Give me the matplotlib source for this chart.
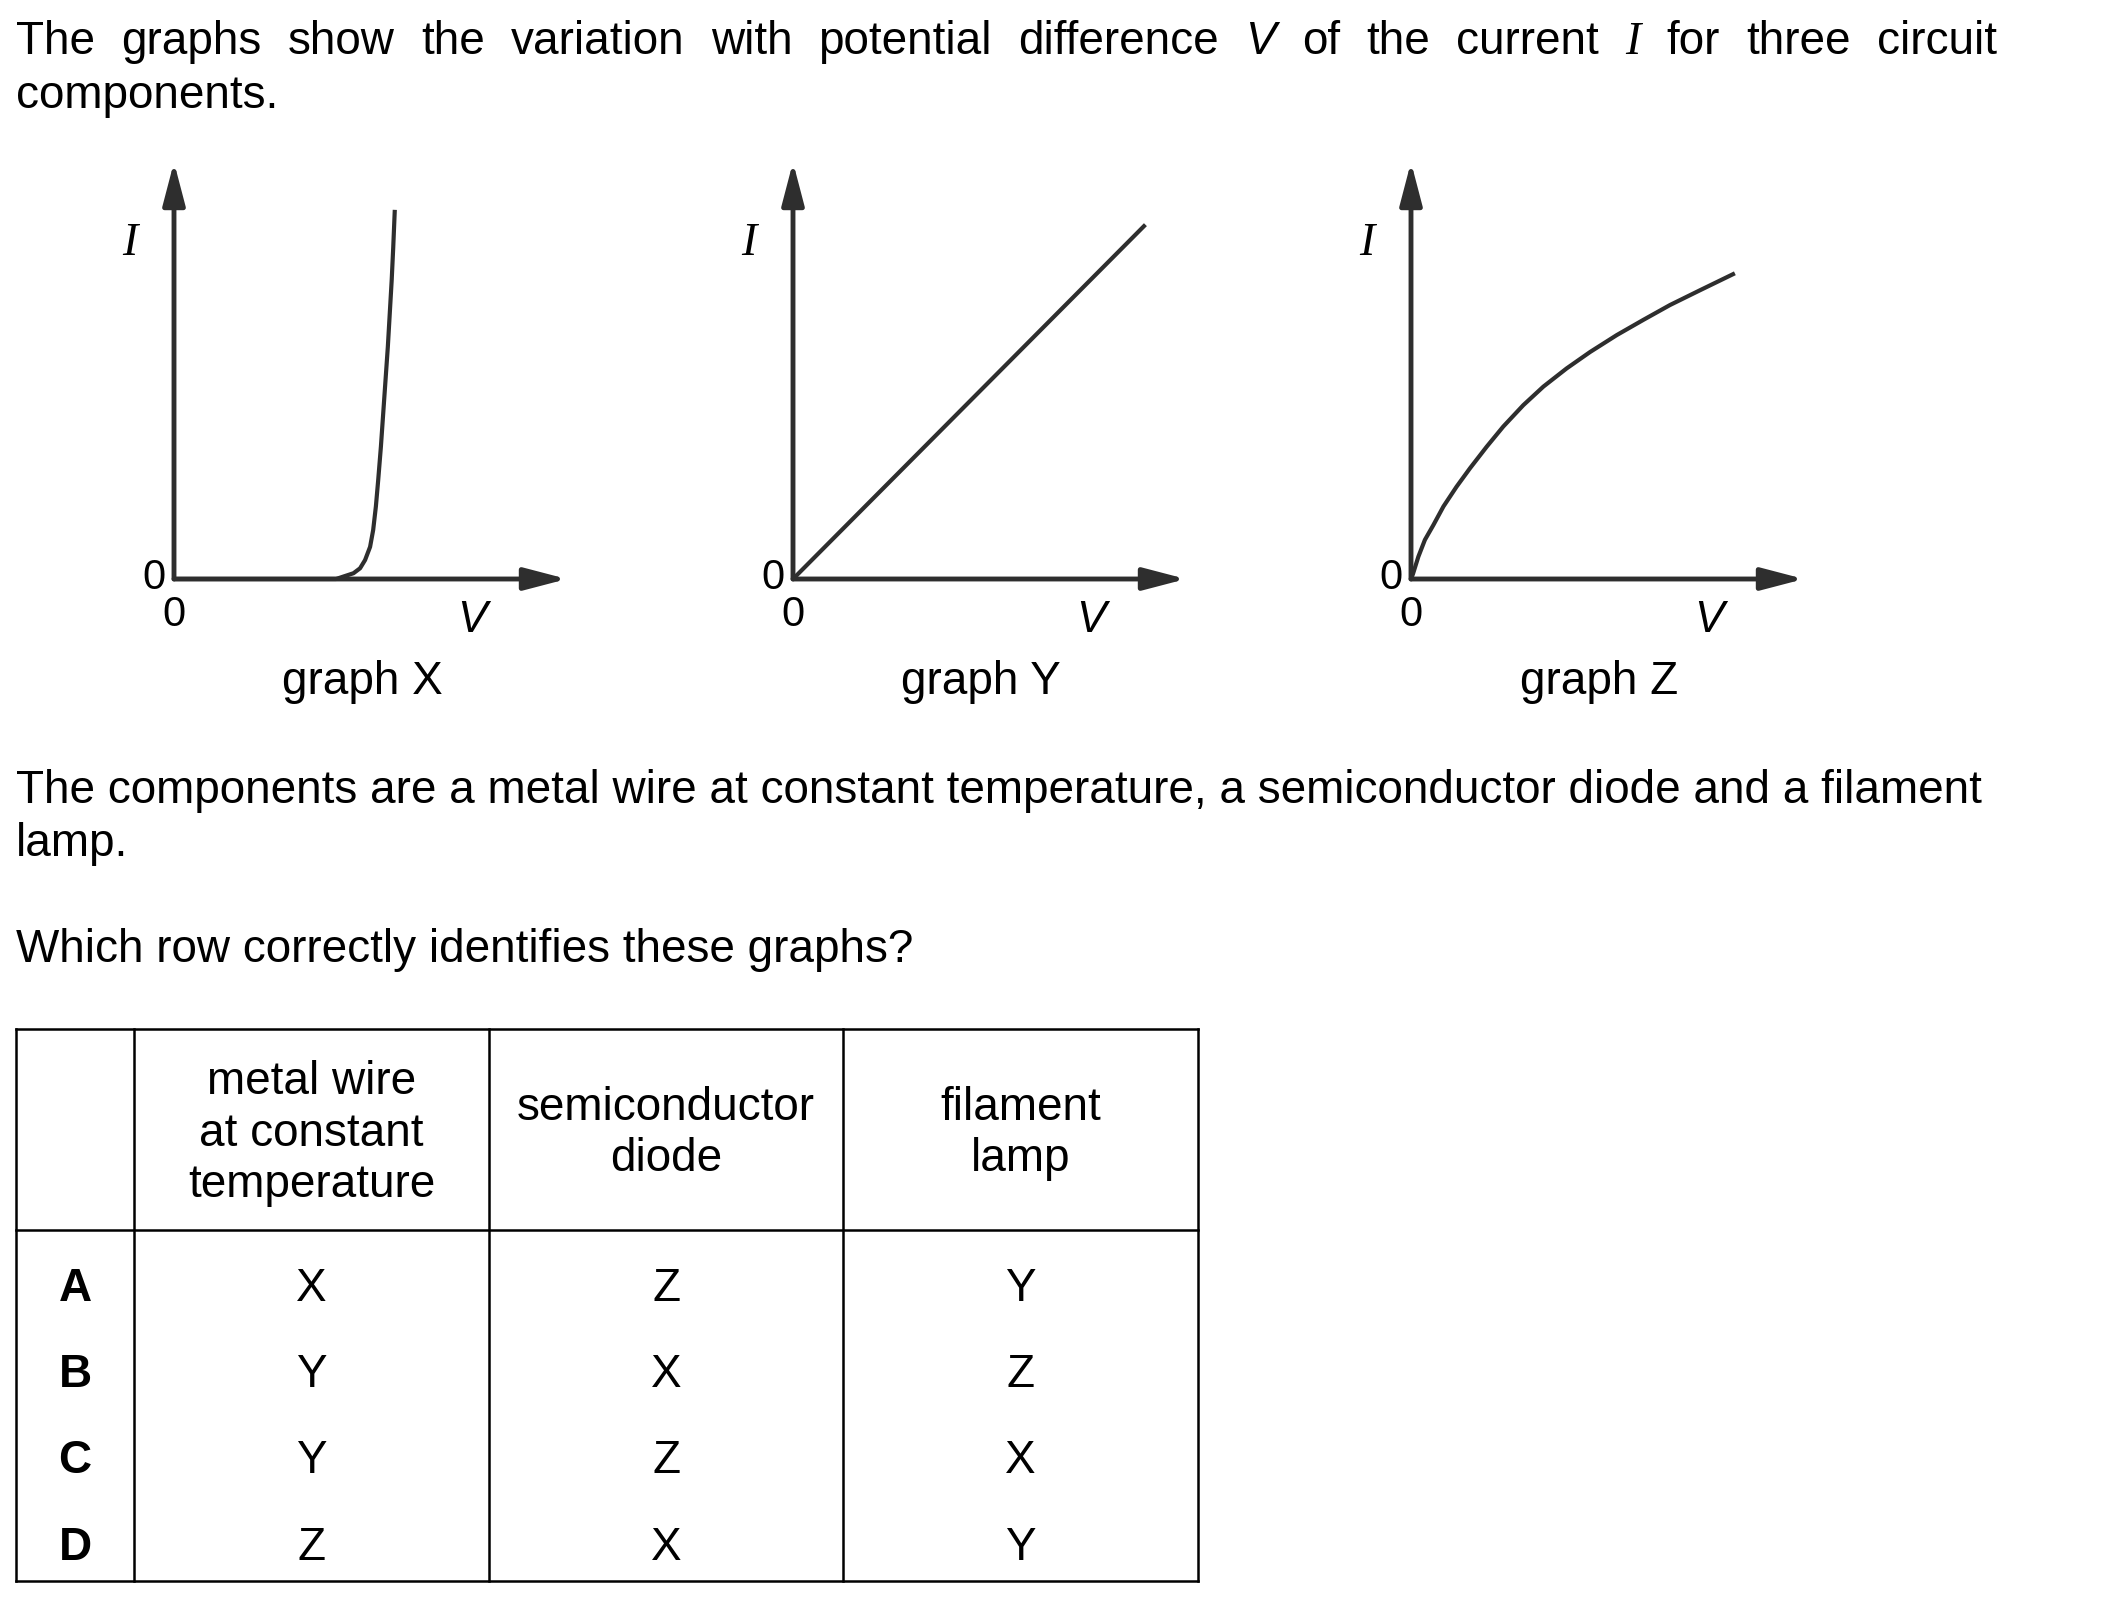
import matplotlib
matplotlib.use("Agg")
import matplotlib.pyplot as plt

W, H, DPI = 2101, 1619, 100
SANS = "Liberation Sans"
SERIF = "Liberation Serif"
FS = 33
INK = "#2e2e2e"

# ---- data ----
graph_names = ["graph X", "graph Y", "graph Z"]
diode_v = [0, 4.20, 4.39, 4.65, 4.82, 4.95, 5.08, 5.16, 5.23, 5.29, 5.36, 5.42, 5.48, 5.54, 5.59, 5.64, 5.68, 5.72]
diode_i = [0, 0.00, 0.06, 0.14, 0.26, 0.46, 0.78, 1.19, 1.76, 2.40, 3.21, 4.02, 4.83, 5.64, 6.45, 7.26, 8.06, 8.96]
wire_v = [0, 9.13]
wire_i = [0, 8.60]
lamp_v = [0, 0.05, 0.19, 0.36, 0.58, 0.84, 1.18, 1.53, 1.96, 2.39, 2.91, 3.43, 4.03, 4.64, 5.33, 6.02, 6.71, 7.49, 8.39]
lamp_i = [0, 0.12, 0.54, 0.95, 1.31, 1.76, 2.24, 2.69, 3.21, 3.70, 4.22, 4.67, 5.11, 5.51, 5.92, 6.29, 6.65, 7.01, 7.42]
curves = [(diode_v, diode_i), (wire_v, wire_i), (lamp_v, lamp_i)]

row_labels = ["A", "B", "C", "D"]
col_headers = ["metal wire\nat constant\ntemperature", "semiconductor\ndiode", "filament\nlamp"]
metal_wire = ["X", "Y", "Y", "Z"]
diode_col = ["Z", "X", "Z", "X"]
lamp_col = ["Y", "Z", "X", "Y"]

# ---- figure + page axes in pixel coords ----
fig = plt.figure(figsize=(W / DPI, H / DPI), dpi=DPI)
bg = fig.add_axes([0, 0, 1, 1])
bg.set_xlim(0, W)
bg.set_ylim(H, 0)
bg.axis("off")

# first line, justified
words = [("The", {}), ("graphs", {}), ("show", {}), ("the", {}), ("variation", {}),
         ("with", {}), ("potential", {}), ("difference", {}), ("V", {"style": "italic"}),
         ("of", {}), ("the", {}), ("current", {}), ("I", {"style": "italic", "family": SERIF}),
         ("for", {}), ("three", {}), ("circuit", {})]
x_left, x_right, y1 = 16, 1997, 54
objs = []
for w, kw in words:
    kw = dict(kw)
    fam = kw.pop("family", SANS)
    objs.append(bg.text(0, y1, w, fontsize=FS, family=fam, va="baseline", **kw))
fig.canvas.draw()
r = fig.canvas.get_renderer()
widths = [t.get_window_extent(r).width for t in objs]
gap = (x_right - x_left - sum(widths)) / (len(objs) - 1)
x = x_left
for t, wd in zip(objs, widths):
    t.set_x(x)
    x += wd + gap

bg.text(16, 108, "components.", fontsize=FS, family=SANS, va="baseline")
bg.text(16, 803, "The components are a metal wire at constant temperature, a semiconductor diode and a filament",
        fontsize=FS, family=SANS, va="baseline")
bg.text(16, 856, "lamp.", fontsize=FS, family=SANS, va="baseline")
bg.text(16, 962, "Which row correctly identifies these graphs?", fontsize=FS, family=SANS, va="baseline")

# ---- the three I-V graphs ----
origins_x = [174, 793, 1411]
oy, tip_y, span_x = 579, 167, 386
for k, (ox, (v, i)) in enumerate(zip(origins_x, curves)):
    ax = fig.add_axes([ox / W, 1 - oy / H, span_x / W, (oy - tip_y) / H])
    ax.set_xlim(0, 10)
    ax.set_ylim(0, 10)
    ax.axis("off")
    ap = dict(arrowstyle="-|>,head_length=1.3,head_width=0.34", mutation_scale=20,
              lw=3.5, color=INK, shrinkA=0, shrinkB=0)
    ax.annotate("", xy=(10.18, 0), xytext=(0, 0), arrowprops=ap, annotation_clip=False)
    ax.annotate("", xy=(0, 10.12), xytext=(0, 0), arrowprops=ap, annotation_clip=False)
    ax.plot(v, i, color=INK, lw=3, solid_capstyle="butt", solid_joinstyle="round", clip_on=False)

    bg.text(ox - 44, 244, "I", fontsize=FS, family=SERIF, style="italic", ha="center", va="center")
    bg.text(ox - 20, 578, "0", fontsize=FS - 3, family=SANS, ha="center", va="center")
    bg.text(ox, 615, "0", fontsize=FS - 3, family=SANS, ha="center", va="center")
    bg.text(ox + 298, 620, "V", fontsize=FS - 1, family=SANS, style="italic", ha="center", va="center")
    bg.text(ox + 188, 682, graph_names[k], fontsize=FS, family=SANS, ha="center", va="center")

# ---- answer table ----
tl, tr = 16, 1198
col_x = [134, 489, 843]
t_top, t_head, t_bot = 1029, 1230, 1581
lw_t = 1.8
for xx in [tl, tr] + col_x:
    bg.plot([xx, xx], [t_top, t_bot], color="black", lw=lw_t, solid_capstyle="projecting")
for yy in [t_top, t_head, t_bot]:
    bg.plot([tl, tr], [yy, yy], color="black", lw=lw_t, solid_capstyle="projecting")

col_cx = [(col_x[0] + col_x[1]) / 2, (col_x[1] + col_x[2]) / 2, (col_x[2] + tr) / 2]
for cx, hdr in zip(col_cx, col_headers):
    bg.text(cx, (t_top + t_head) / 2 + 4, hdr, fontsize=FS, family=SANS, ha="center", va="center",
            linespacing=1.22)

row_y = [1289, 1375, 1461, 1548]
for ry, lab, a, b, c in zip(row_y, row_labels, metal_wire, diode_col, lamp_col):
    bg.text((tl + col_x[0]) / 2, ry, lab, fontsize=FS, family=SANS, weight="bold", ha="center", va="center")
    for cx, val in zip(col_cx, (a, b, c)):
        bg.text(cx, ry, val, fontsize=FS, family=SANS, ha="center", va="center")

fig.savefig("out.png", dpi=DPI)
